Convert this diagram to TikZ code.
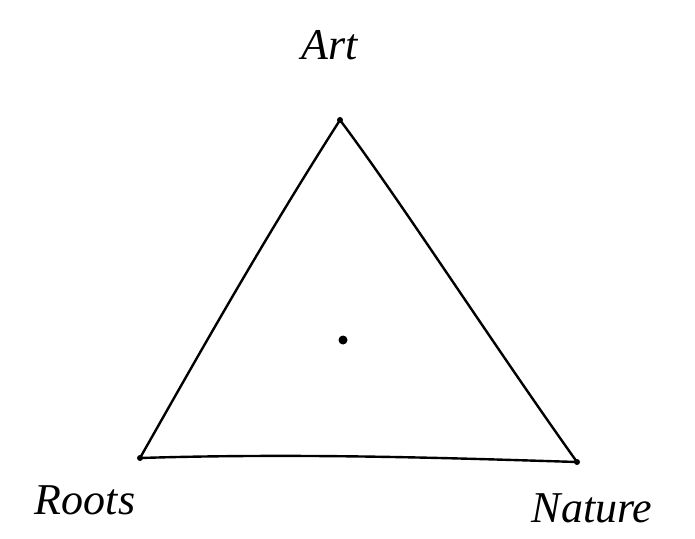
\documentclass[tikz,border=0pt]{standalone}
\usepackage{fontspec}
\setmainfont{Liberation Serif}
\begin{document}
\begin{tikzpicture}[x=1pt,y=-1pt,
  lbl/.style={font=\itshape\fontsize{44}{46}\selectfont, inner sep=0pt},
  vtx/.style={circle, fill=black, inner sep=0pt, minimum size=6pt},
  edge/.style={line width=2.4pt, line cap=round, line join=round}]
\useasboundingbox (0,0) rectangle (695,538);
\node[vtx] (A) at (340,120) {};
\node[vtx] (R) at (140,458) {};
\node[vtx] (N) at (577,462) {};
\node[circle, fill=black, inner sep=0pt, minimum size=9pt] (C) at (343,340) {};
\draw[edge] (A.center) .. controls (260,245) and (190,370) .. (R.center);
\draw[edge] (R.center) .. controls (300,453) and (450,458) .. (N.center);
\draw[edge] (N.center) .. controls (490,340) and (400,200) .. (A.center);
\node[lbl] (tA) at (330,45) {Art};
\node[lbl] (tR) at (85,500) {Roots};
\node[lbl] (tN) at (592,508) {Nature};
\end{tikzpicture}
\end{document}
